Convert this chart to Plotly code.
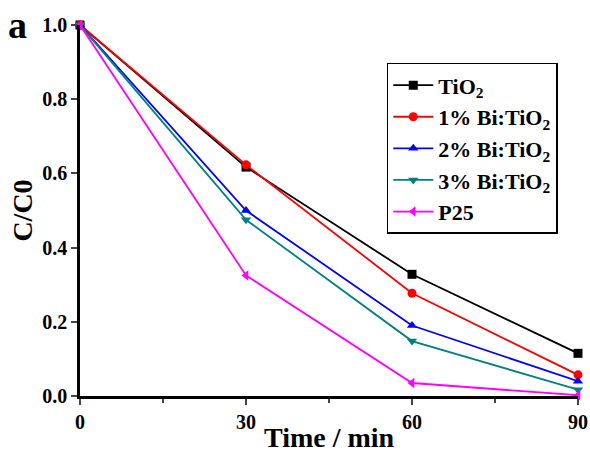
import plotly.graph_objects as go

time = [0, 30, 60, 90]
tio2 = [1.0, 0.617, 0.328, 0.115]
bi1 = [1.0, 0.623, 0.277, 0.057]
bi2 = [1.0, 0.50, 0.190, 0.040]
bi3 = [1.0, 0.475, 0.148, 0.017]
p25 = [1.0, 0.325, 0.035, 0.002]

names = ["TiO<sub>2</sub>", "1% Bi:TiO<sub>2</sub>", "2% Bi:TiO<sub>2</sub>",
         "3% Bi:TiO<sub>2</sub>", "P25"]
series = [tio2, bi1, bi2, bi3, p25]
colors = ["#000000", "#ff0000", "#0000ff", "#008080", "#ff00ff"]
symbols = ["square", "circle", "triangle-up", "triangle-down", "triangle-left"]

fig = go.Figure()
for n, s, c, m in zip(names, series, colors, symbols):
    fig.add_trace(go.Scatter(x=time, y=s, name=n, mode="lines+markers",
                             line=dict(color=c, width=1.8),
                             marker=dict(symbol=m, size=9, color=c),
                             cliponaxis=False))

font = "Liberation Serif, Times New Roman, serif"
fig.update_layout(
    width=590, height=455,
    margin=dict(l=80, r=12, t=25, b=59),
    plot_bgcolor="white", paper_bgcolor="white",
    font=dict(family=font, color="black", size=16),
    showlegend=True,
    legend=dict(x=0.616, y=0.898, xanchor="left", yanchor="top",
                bordercolor="black", borderwidth=1.5, bgcolor="white",
                font=dict(family=font, size=22, color="black", weight="bold"),
                itemwidth=40, tracegroupgap=4),
    xaxis=dict(range=[0, 90], tickvals=[0, 30, 60, 90], ticks="outside",
               ticklen=6, tickwidth=2, showline=True, linewidth=2.5, linecolor="black",
               showgrid=False, zeroline=False, automargin=False,
               minor=dict(tickvals=[15, 45, 75], ticks="outside", ticklen=4, tickwidth=2),
               tickfont=dict(family=font, size=20, weight="bold")),
    yaxis=dict(range=[0, 1.0], tickvals=[0, 0.2, 0.4, 0.6, 0.8, 1.0],
               tickformat=".1f", ticks="outside",
               ticklen=6, tickwidth=2, showline=True, linewidth=2.5, linecolor="black",
               showgrid=False, zeroline=False, automargin=False,
               tickfont=dict(family=font, size=20, weight="bold"),
               title=dict(text="C/C0", font=dict(family=font, size=28, weight="bold"),
                          standoff=2)),
    annotations=[
        dict(text="a", xref="paper", yref="paper", x=-0.125, y=1.0,
             xanchor="center", yanchor="middle", showarrow=False,
             font=dict(family=font, size=38, weight="bold", color="black")),
        dict(text="Time / min", xref="paper", yref="paper", x=0.5, y=-0.159,
             xanchor="center", yanchor="bottom", showarrow=False,
             font=dict(family=font, size=28, weight="bold", color="black")),
    ],
)

fig.write_html("out.html")
